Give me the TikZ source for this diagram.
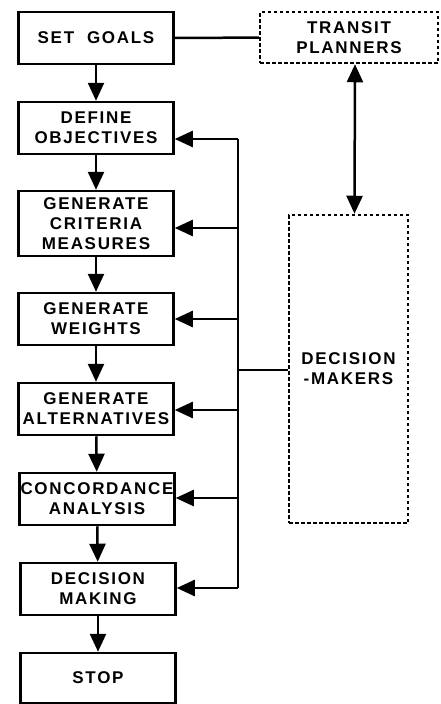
\documentclass[tikz,border=0pt]{standalone}
\usepackage{fontspec}
\setmainfont{Liberation Sans}
\newfontfamily\boxfont{Liberation Sans}[LetterSpace=10]
\usetikzlibrary{arrows.meta}
\tikzset{
    stepbox/.style={draw, line width=2.5pt, minimum width=155pt, minimum height=52pt,
        align=center, inner sep=0pt, font=\boxfont\bfseries\fontsize{17pt}{20pt}\selectfont},
    dashbox/.style={stepbox, line width=2.5pt, dash pattern=on 3.5pt off 2.5pt},
    flow/.style={line width=2.5pt, -{Triangle[width=16pt,length=18pt]}}
}
\begin{document}
\begin{tikzpicture}[x=1pt, y=-1pt, line width=2.5pt]
    \useasboundingbox (0,0) rectangle (440,704);
    % main sequence
    \node[stepbox] (goals) at (96,38) {SET\ \ GOALS};
    \node[stepbox] (obj) at (96,128) {DEFINE\\OBJECTIVES};
    \node[stepbox, minimum height=65pt] (crit) at (96,223.5) {GENERATE\\CRITERIA\\MEASURES};
    \node[stepbox] (wts) at (96,319) {GENERATE\\WEIGHTS};
    \node[stepbox] (alt) at (96,409) {GENERATE\\ALTERNATIVES};
    \node[stepbox] (conc) at (97,499) {CONCORDANCE\\ANALYSIS};
    \node[stepbox] (dm) at (98,589) {DECISION\\MAKING};
    \node[stepbox, minimum height=50pt] (stop) at (98,678) {STOP};
    % actors
    \node[dashbox, minimum width=178pt, minimum height=51pt] (planners) at (349,37.5) {TRANSIT\\PLANNERS};
    \node[dashbox, minimum width=119pt, minimum height=308pt] (makers) at (348.5,369) {DECISION\\-MAKERS};
    \foreach \a/\b in {goals/obj, obj/crit, crit/wts, wts/alt, alt/conc, conc/dm, dm/stop}
        \draw[flow] (\a) -- (\b);
    \draw (goals) -- (planners);
    \draw[flow, {Triangle[width=16pt,length=18pt]}-{Triangle[width=16pt,length=18pt]}]
        ([xshift=6pt]planners.south) -- ([xshift=6pt]makers.north);
    % feedback bus
    \coordinate (b1) at (238,139);
    \coordinate (b2) at (238,228);
    \coordinate (b3) at (238,319);
    \coordinate (b4) at (238,410);
    \coordinate (b5) at (238,498);
    \coordinate (b6) at (238,588);
    \coordinate (bm) at (238,370);
    \draw[line join=miter] (b1) -- (b6);
    \draw (bm) -- (bm -| makers.west);
    \foreach \c/\n in {b1/obj, b2/crit, b3/wts, b4/alt, b5/conc, b6/dm}
        \draw[flow] (\c) -- (\c -| \n.east);
\end{tikzpicture}
\end{document}
